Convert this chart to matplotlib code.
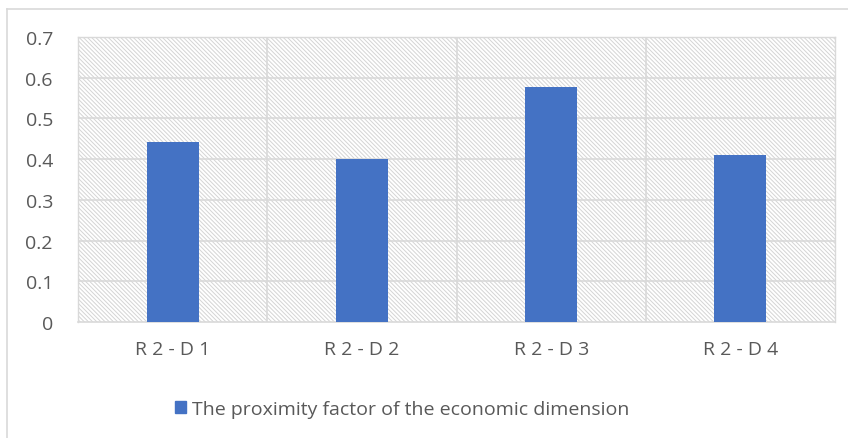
import matplotlib.pyplot as plt
from matplotlib.lines import Line2D
from matplotlib.patches import Patch

categories = ["R 2 - D 1", "R 2 - D 2", "R 2 - D 3", "R 2 - D 4"]
values = [0.443, 0.401, 0.577, 0.409]
series_name = "The proximity factor of the economic dimension"
yticks = [0, 0.1, 0.2, 0.3, 0.4, 0.5, 0.6, 0.7]

bar_color = "#4472C4"
grid_color = "#d9d9d9"
text_color = "#595959"
plt.rcParams['font.family'] = ['Open Sans', 'DejaVu Sans']
plt.rcParams['hatch.color'] = "#d4d4d4"
plt.rcParams['hatch.linewidth'] = 0.7

fig = plt.figure(figsize=(8.48, 4.39), dpi=100)
ax = fig.add_axes([78 / 848, 1 - 323 / 439, (835 - 78) / 848, (323 - 38) / 439])

# patterned plot area background
ax.set_facecolor("white")
ax.bar([0.5 * (len(categories) - 1)], [0.7], width=len(categories), bottom=0,
       color="white", hatch="\\" * 8, edgecolor="#d4d4d4", linewidth=0, zorder=0)

x = list(range(len(categories)))
ax.bar(x, values, width=0.275, color=bar_color, zorder=3)

ax.set_xlim(-0.5, len(categories) - 0.5)
ax.set_ylim(0, 0.7)
ax.set_yticks(yticks)
ax.set_yticklabels(["0" if v == 0 else f"{v:.1f}" for v in yticks])
ax.set_xticks(x)
ax.set_xticklabels(categories)
ax.tick_params(axis='y', length=0, pad=18, labelsize=14, labelcolor=text_color)
ax.tick_params(axis='x', length=0, pad=13, labelsize=14, labelcolor=text_color)

for v in yticks[1:]:
    ax.axhline(v, color=grid_color, linewidth=1.2, zorder=1)
for b in [0.5, 1.5, 2.5]:
    ax.axvline(b, color=grid_color, linewidth=1.2, zorder=1)

for side in ["top", "right", "left"]:
    ax.spines[side].set_color(grid_color)
    ax.spines[side].set_linewidth(1.0)
ax.spines["bottom"].set_color(grid_color)
ax.spines["bottom"].set_linewidth(1.2)

leg = fig.legend(handles=[Patch(color=bar_color, label=series_name)],
                 loc="center", bbox_to_anchor=(402 / 848, 1 - 410 / 439),
                 frameon=False, fontsize=14, handlelength=0.6, handleheight=0.6,
                 handletextpad=0.3, labelcolor=text_color)

# outer chart border (cropped at right/bottom)
fig.add_artist(Line2D([7 / 848, 7 / 848], [0, 1 - 10 / 439], color=grid_color, linewidth=1.2))
fig.add_artist(Line2D([7 / 848, 1], [1 - 10 / 439, 1 - 10 / 439], color=grid_color, linewidth=1.2))

fig.savefig("out.png", dpi=100)
